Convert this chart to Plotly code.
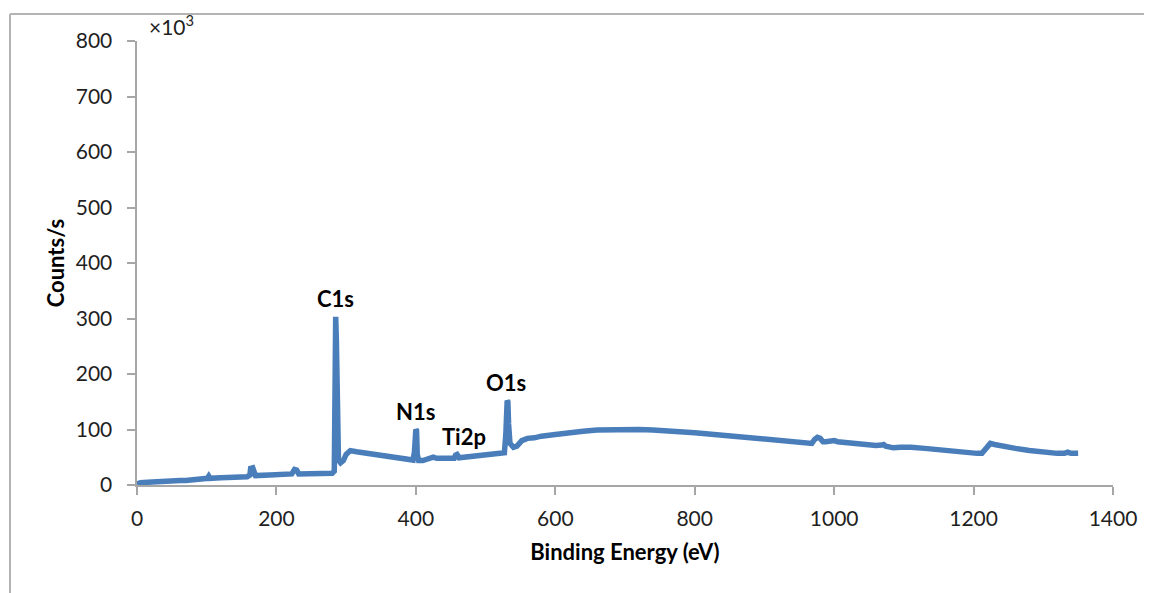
import plotly.graph_objects as go

energy_ev = [0, 5, 15, 25, 35, 40, 50, 62, 70, 90, 101, 103, 105, 120, 140, 150, 155, 158, 162, 163, 166, 168, 170,
             190, 210, 222, 226, 229, 232, 250, 270, 280, 283, 284, 285, 286, 287, 289, 292, 296, 300, 306, 315,
             330, 350, 370, 390, 396, 398, 400, 401, 402, 404, 410, 420, 425, 430, 445, 455, 457, 459, 462, 480,
             500, 520, 527, 529, 531, 532, 533, 535, 540, 545, 552, 560, 570, 580, 600, 620, 640, 660, 680, 700,
             720, 740, 760, 780, 800, 820, 840, 860, 880, 900, 920, 940, 960, 968, 972, 976, 980, 984, 988, 995,
             1000, 1005, 1020, 1040, 1060, 1068, 1071, 1074, 1085, 1095, 1102, 1110, 1130, 1150, 1170, 1190, 1205,
             1212, 1218, 1224, 1230, 1240, 1260, 1280, 1300, 1320, 1330, 1335, 1340, 1350]
counts_k = [2, 4, 5, 6, 7.5, 7, 7, 8, 8, 10, 12, 16, 12, 13, 14, 15, 16, 15, 18, 30, 31, 20, 17,
            18, 19, 20, 28, 27, 20, 20, 20, 21, 25, 302, 303, 260, 60, 45, 40, 44, 55, 62, 60,
            57, 53, 49, 46, 45, 60, 100, 98, 55, 44, 44, 49, 50, 48, 47, 48, 54, 55, 49, 51,
            53, 57, 58, 90, 152, 150, 110, 75, 68, 70, 80, 84, 85, 88, 91, 95, 97, 99, 100, 100,
            100, 99, 98, 96, 94, 92, 90, 87, 85, 82, 80, 78, 76, 75, 82, 86, 84, 78, 78, 80,
            80, 78, 76, 73, 71, 72, 73, 70, 67, 68, 69, 68, 66, 63, 61, 59, 57,
            57, 68, 75, 73, 70, 66, 62, 59, 57, 57, 59, 57, 57]

peak_labels = ["C1s", "N1s", "Ti2p", "O1s"]
label_energy = [285, 400, 469, 529]
label_height = [303, 100, 55, 152]

x_ticks = [0, 200, 400, 600, 800, 1000, 1200, 1400]
y_ticks = [0, 100, 200, 300, 400, 500, 600, 700, 800]

FONT = "Lato, 'Open Sans', sans-serif"
TXT = "#1f1f1f"
AXC = "#a6a6a6"
NB = "\u00a0"

fig = go.Figure()
fig.add_trace(go.Scatter(x=energy_ev, y=counts_k, mode="lines",
                         line=dict(color="#4A7EBB", width=5.5), hoverinfo="x+y"))

for lab, e, h in zip(peak_labels, label_energy, label_height):
    fig.add_annotation(x=e, y=h, text=f"<b>{lab}</b>", showarrow=False, yshift=18,
                       font=dict(family=FONT, size=22, color="#000000"))
fig.add_annotation(xref="paper", yref="paper", x=0.01, y=1.0, xanchor="left", yanchor="bottom",
                   text="×10<sup>3</sup>", showarrow=False, font=dict(family=FONT, size=21, color=TXT))

# page body has an 8px offset in the browser
OFF = 8
L, R, T, B = 137 - OFF, 39, 41 - OFF, 108
W, H = 1152 - OFF, 593 - OFF
pw, ph = W - L - R, H - T - B
bx = (10 - OFF - L) / pw
by = 1 + (T - (14 - OFF)) / ph
fig.add_shape(type="line", xref="paper", yref="paper", x0=bx, x1=bx, y0=-1, y1=by,
              line=dict(color="#b4b4b4", width=2))
fig.add_shape(type="line", xref="paper", yref="paper", x0=bx, x1=2, y0=by, y1=by,
              line=dict(color="#b4b4b4", width=2))

fig.update_layout(
    width=W, height=H, margin=dict(l=L, r=R, t=T, b=B),
    paper_bgcolor="white", plot_bgcolor="white", showlegend=False,
    font=dict(family=FONT, color=TXT),
    xaxis=dict(range=[0, 1400], tickvals=x_ticks, showgrid=False, zeroline=False,
               showline=True, linecolor=AXC, linewidth=1.5, ticks="outside", ticklen=8,
               tickcolor=AXC, tickwidth=1.5, tickfont=dict(family=FONT, size=21, color=TXT),
               ticklabelstandoff=6,
               title=dict(text="<b>Binding Energy (eV)</b>", font=dict(family=FONT, size=22, color="#000"),
                          standoff=16)),
    yaxis=dict(range=[0, 800], tickvals=y_ticks, ticktext=[f"{v}{NB}{NB}" for v in y_ticks],
               showgrid=False, zeroline=False,
               showline=True, linecolor=AXC, linewidth=1.5, ticks="outside", ticklen=8,
               tickcolor=AXC, tickwidth=1.5, tickfont=dict(family=FONT, size=21, color=TXT),
               title=dict(text="<b>Counts/s</b>", font=dict(family=FONT, size=22, color="#000"),
                          standoff=5)),
)

fig.write_html("out.html")
